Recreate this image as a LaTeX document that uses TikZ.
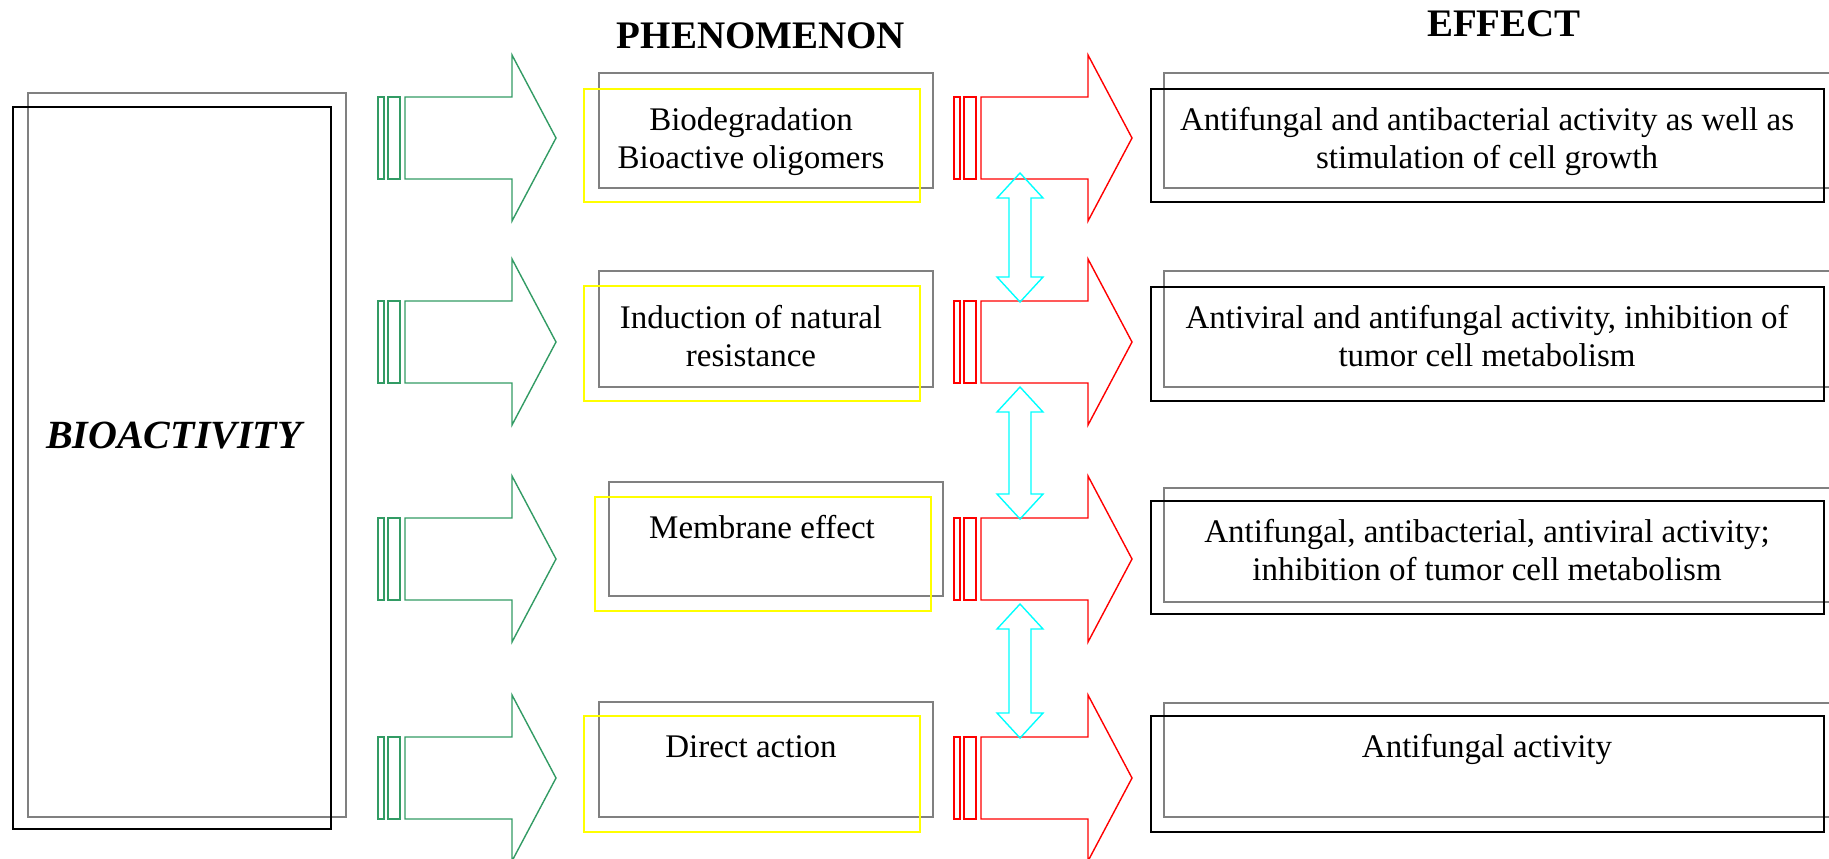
\documentclass[tikz,border=0pt]{standalone}
\usepackage{fontspec}
\setmainfont{Liberation Serif}
\usetikzlibrary{calc}
\definecolor{arrgreen}{RGB}{50,155,100}
\definecolor{arrred}{RGB}{255,0,0}
\definecolor{arrcyan}{RGB}{0,255,255}
\definecolor{frmyellow}{RGB}{255,255,0}
\definecolor{frmgray}{RGB}{128,128,128}

% rectangle frame as a named node, given by its corners in pixel units
\newcommand\frm[6]{%
  \node[#6, minimum width={(#4-#2)*0.5pt}, minimum height={(#5-#3)*0.5pt}]
    (#1) at ({(#2+#4)/2},{(#3+#5)/2}) {};}

\tikzset{
  frame/.style={draw, inner sep=0pt, outer sep=0pt, fill=none},
  grayframe/.style={frame, draw=frmgray, line width=0.75pt},
  blackframe/.style={frame, draw=black, line width=1pt},
  yellowframe/.style={frame, draw=frmyellow, line width=1pt},
  txt/.style={anchor=base, inner sep=0pt, font=\fontsize{16.5}{19}\selectfont},
  heading/.style={anchor=base, inner sep=0pt, font=\fontsize{19.5}{23}\selectfont\bfseries},
  % striped block arrow, origin at the left of the first stripe, mid height
  pics/tailarrow/.style={code={
    \draw[pic actions] (0,-41) rectangle (6,41);
    \draw[pic actions] (10,-41) rectangle (22,41);
    \draw[pic actions] (27,-41) -- (134,-41) -- (134,-83) -- (178,0)
      -- (134,83) -- (134,41) -- (27,41) -- cycle;
    \coordinate (-ctop) at (66,-40);
    \coordinate (-cbot) at (66,40);
  }},
  greenarrow/.style={draw=arrgreen, line width=0.7pt},
  redarrow/.style={draw=arrred, line width=0.7pt},
  % vertical hollow double arrow between two points
  dblarrow/.style={draw=arrcyan, line width=0.7pt,
    to path={-- ++(-23,25) -- ++(12,0) -- ($(\tikztotarget)+(-11,-25)$)
      -- ++(-12,0) -- (\tikztotarget) -- ++(23,-25) -- ++(-12,0)
      -- ($(\tikztostart)+(11,25)$) -- ++(12,0) -- cycle}},
}

\begin{document}
\begin{tikzpicture}[x=0.5pt, y=-0.5pt]
\useasboundingbox (0,0) rectangle (1829,858);
\clip (0,0) rectangle (1829,858);

% headings
\node[heading] (hphen) at (761,48) {PHENOMENON};
\node[heading] (heff) at (1504,36) {EFFECT};

% left block
\frm{bioG}{28}{93}{346}{817}{grayframe}
\frm{bioB}{13}{107}{331}{829}{blackframe}
\node[anchor=base, inner sep=0pt, font=\fontsize{20}{24}\selectfont\bfseries\itshape]
  (bio) at (174,448) {BIOACTIVITY};

% phenomenon boxes
\frm{p1G}{599}{73}{933}{188}{grayframe}
\frm{p1Y}{584}{89}{920}{202}{yellowframe}
\frm{p2G}{599}{271}{933}{387}{grayframe}
\frm{p2Y}{584}{286}{920}{401}{yellowframe}
\frm{p3G}{609}{482}{943}{596}{grayframe}
\frm{p3Y}{595}{497}{931}{611}{yellowframe}
\frm{p4G}{599}{702}{933}{817}{grayframe}
\frm{p4Y}{584}{716}{920}{832}{yellowframe}

\node[txt] (p1t) at (751,130) {\begin{tabular}[t]{@{}c@{}}Biodegradation\\Bioactive oligomers\end{tabular}};
\node[txt] (p2t) at (751,328) {\begin{tabular}[t]{@{}c@{}}Induction of natural\\resistance\end{tabular}};
\node[txt] (p3t) at (762,538) {Membrane effect};
\node[txt] (p4t) at (751,757) {Direct action};

% effect boxes
\frm{e1G}{1164}{73}{1850}{188}{grayframe}
\frm{e1B}{1151}{89}{1824}{202}{blackframe}
\frm{e2G}{1164}{271}{1850}{387}{grayframe}
\frm{e2B}{1151}{287}{1824}{401}{blackframe}
\frm{e3G}{1164}{488}{1850}{602}{grayframe}
\frm{e3B}{1151}{501}{1824}{614}{blackframe}
\frm{e4G}{1164}{703}{1850}{817}{grayframe}
\frm{e4B}{1151}{716}{1824}{832}{blackframe}

\node[txt] (e1t) at (1487,130) {\begin{tabular}[t]{@{}c@{}}Antifungal and antibacterial activity as well as\\stimulation of cell growth\end{tabular}};
\node[txt] (e2t) at (1487,328) {\begin{tabular}[t]{@{}c@{}}Antiviral and antifungal activity, inhibition of\\tumor cell metabolism\end{tabular}};
\node[txt] (e3t) at (1487,542) {\begin{tabular}[t]{@{}c@{}}Antifungal, antibacterial, antiviral activity;\\inhibition of tumor cell metabolism\end{tabular}};
\node[txt] (e4t) at (1487,757) {Antifungal activity};

% striped block arrows
\pic[greenarrow] (g1) at (378,138) {tailarrow};
\pic[greenarrow] (g2) at (378,342) {tailarrow};
\pic[greenarrow] (g3) at (378,559) {tailarrow};
\pic[greenarrow] (g4) at (378,778) {tailarrow};
\pic[redarrow] (r1) at (954,138) {tailarrow};
\pic[redarrow] (r2) at (954,342) {tailarrow};
\pic[redarrow] (r3) at (954,559) {tailarrow};
\pic[redarrow] (r4) at (954,778) {tailarrow};

% double arrows between the red arrows
\draw[dblarrow] ($(r1-cbot)+(0,-5)$) coordinate (c1a) to (r2-ctop);
\draw[dblarrow] ($(r2-cbot)+(0,5)$) coordinate (c2a) to (r3-ctop);
\draw[dblarrow] ($(r3-cbot)+(0,5)$) coordinate (c3a) to (r4-ctop);
\end{tikzpicture}
\end{document}
